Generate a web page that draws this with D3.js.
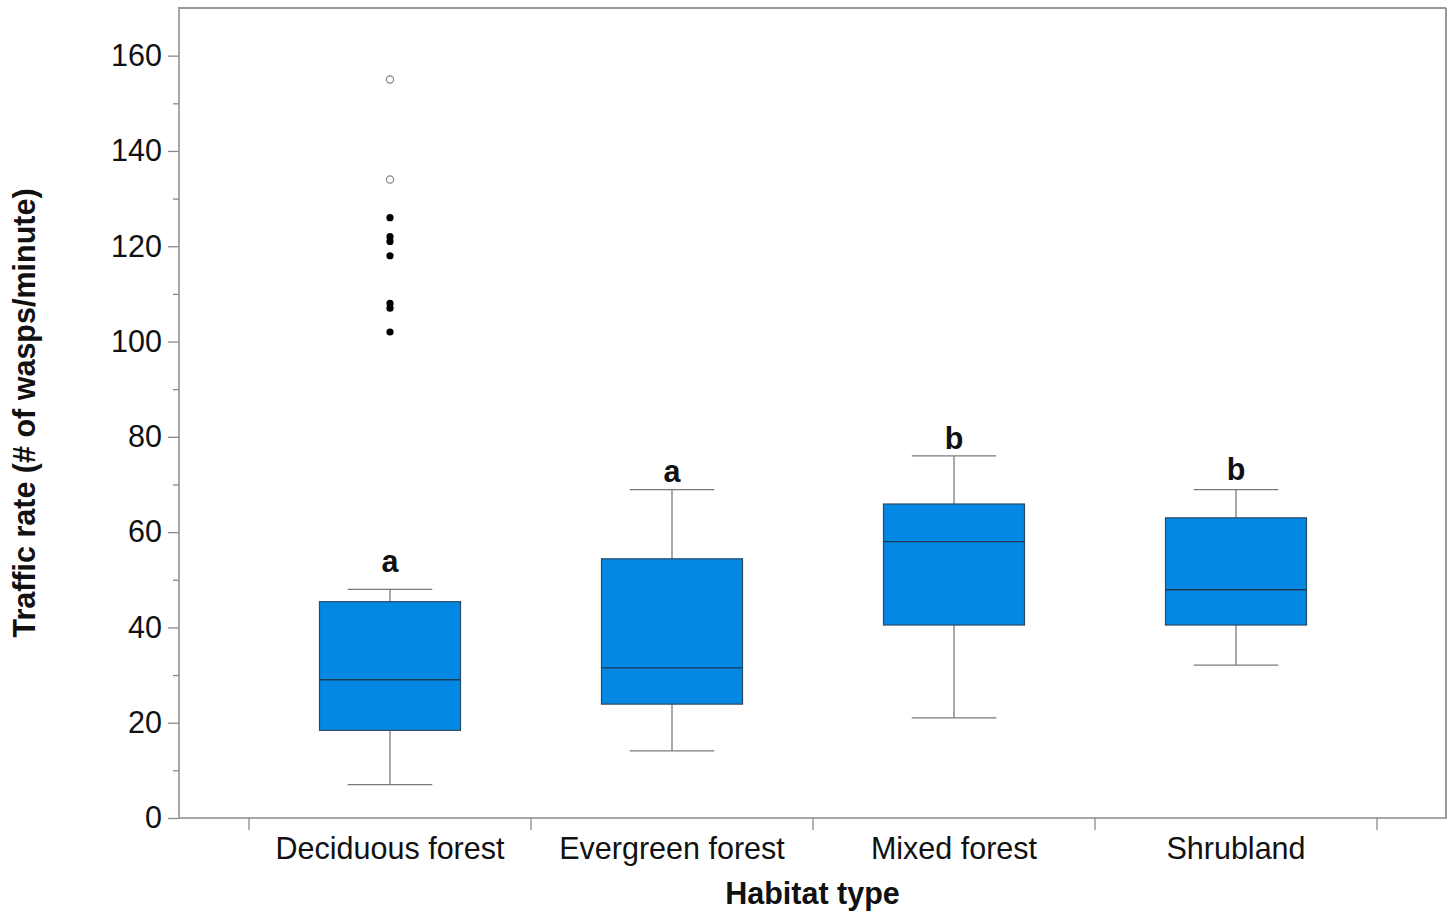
<!DOCTYPE html>
<html>
<head>
<meta charset="utf-8">
<script src="https://cdn.jsdelivr.net/npm/d3@7"></script>
<style>
  html, body { margin: 0; padding: 0; background: #fff; }
  svg { display: block; font-family: "Liberation Sans", Arial, Helvetica, sans-serif; }
</style>
</head>
<body>
<svg id="chart" width="1455" height="913"></svg>
<script>
// ---- Data ----
const categories = ["Deciduous forest", "Evergreen forest", "Mixed forest", "Shrubland"];
const whiskerLow  = [7, 14.1, 21, 32.1];
const q1          = [18.4, 23.9, 40.5, 40.5];
const medians     = [29, 31.5, 58, 47.9];
const q3          = [45.4, 54.4, 65.9, 63];
const whiskerHigh = [48, 68.9, 76, 68.9];
const groupLetters = ["a", "a", "b", "b"];
const letterValues = [51.7, 70.6, 77.5, 71.0];
// outliers for Deciduous forest
const outlierCategory = "Deciduous forest";
const filledOutliers = [126, 122, 121, 118, 108, 107, 102];
const openOutliers = [155, 134];
const yTicks = [0, 20, 40, 60, 80, 100, 120, 140, 160];
const yMinorTicks = [10, 30, 50, 70, 90, 110, 130, 150];
const yTitle = "Traffic rate (# of wasps/minute)";
const xTitle = "Habitat type";

// ---- Layout ----
const svg = d3.select("#chart");
const mLeft = 179, mRight = 1446, mTop = 8, mBottom = 818;

const y = d3.scaleLinear().domain([0, 170]).range([mBottom, mTop]);
const x = d3.scaleBand().domain(categories).range([249, 1377]).paddingInner(0).paddingOuter(0);
const bw = x.bandwidth();
const boxW = bw * 0.5;
const capW = bw * 0.3;

const axisColor = "#8a8a8a";
const fontSize = 30.5;

// frame top & right
svg.append("line").attr("x1", mLeft).attr("x2", mRight).attr("y1", mTop).attr("y2", mTop)
  .attr("stroke", "#9a9a9a").attr("stroke-width", 2);
svg.append("line").attr("x1", mRight).attr("x2", mRight).attr("y1", mTop).attr("y2", mBottom)
  .attr("stroke", "#9a9a9a").attr("stroke-width", 2);

// y axis
const yAxis = svg.append("g").attr("transform", `translate(${mLeft},0)`)
  .call(d3.axisLeft(y).tickValues(yTicks).tickSize(11).tickPadding(6).tickFormat(d3.format("d")));
yAxis.select(".domain").remove();
yAxis.selectAll(".tick line").attr("stroke", axisColor).attr("stroke-width", 1.3);
yAxis.selectAll(".tick text").attr("fill", "#111").style("font-size", fontSize + "px")
  .style("font-family", "'Liberation Sans', Arial, sans-serif");
const yMinor = svg.append("g").attr("transform", `translate(${mLeft},0)`)
  .call(d3.axisLeft(y).tickValues(yMinorTicks).tickSize(6).tickFormat(""));
yMinor.select(".domain").remove();
yMinor.selectAll(".tick line").attr("stroke", axisColor).attr("stroke-width", 1.3);
svg.append("line").attr("x1", mLeft).attr("x2", mLeft).attr("y1", mTop - 1).attr("y2", mBottom)
  .attr("stroke", axisColor).attr("stroke-width", 1.5);

// x axis
const xAxis = svg.append("g").attr("transform", `translate(0,${mBottom})`)
  .call(d3.axisBottom(x).tickSize(0).tickPadding(0));
xAxis.select(".domain").remove();
xAxis.selectAll(".tick text").attr("y", 0).attr("dy", null)
  .attr("transform", "translate(0,41)")
  .attr("fill", "#111").style("font-size", fontSize + "px")
  .style("font-family", "'Liberation Sans', Arial, sans-serif");
const boundaries = categories.map(c => x(c)).concat([x.range()[1]]);
svg.append("g").selectAll("line").data(boundaries).join("line")
  .attr("x1", d => d).attr("x2", d => d).attr("y1", mBottom).attr("y2", mBottom + 12)
  .attr("stroke", axisColor).attr("stroke-width", 1.3);
svg.append("line").attr("x1", mLeft).attr("x2", mRight + 1).attr("y1", mBottom).attr("y2", mBottom)
  .attr("stroke", axisColor).attr("stroke-width", 1.5);

// boxes
const boxes = categories.map((c, i) => ({
  c, lo: whiskerLow[i], q1: q1[i], med: medians[i], q3: q3[i], hi: whiskerHigh[i],
  letter: groupLetters[i], lv: letterValues[i]
}));
const g = svg.append("g").selectAll("g").data(boxes).join("g")
  .attr("transform", d => `translate(${x(d.c) + bw / 2},0)`);
const whiskColor = "#7a7a7a";
g.append("line").attr("x1", 0).attr("x2", 0).attr("y1", d => y(d.hi)).attr("y2", d => y(d.q3))
  .attr("stroke", whiskColor).attr("stroke-width", 1.3);
g.append("line").attr("x1", 0).attr("x2", 0).attr("y1", d => y(d.q1)).attr("y2", d => y(d.lo))
  .attr("stroke", whiskColor).attr("stroke-width", 1.3);
g.append("line").attr("x1", -capW / 2).attr("x2", capW / 2).attr("y1", d => y(d.hi)).attr("y2", d => y(d.hi))
  .attr("stroke", whiskColor).attr("stroke-width", 1.3);
g.append("line").attr("x1", -capW / 2).attr("x2", capW / 2).attr("y1", d => y(d.lo)).attr("y2", d => y(d.lo))
  .attr("stroke", whiskColor).attr("stroke-width", 1.3);
g.append("rect").attr("x", -boxW / 2).attr("width", boxW)
  .attr("y", d => y(d.q3)).attr("height", d => y(d.q1) - y(d.q3))
  .attr("fill", "#0388e3").attr("stroke", "#2b4a66").attr("stroke-width", 1.2);
g.append("line").attr("x1", -boxW / 2).attr("x2", boxW / 2).attr("y1", d => y(d.med)).attr("y2", d => y(d.med))
  .attr("stroke", "#1d3a55").attr("stroke-width", 1.4);
g.append("text").attr("x", 0).attr("y", d => y(d.lv)).attr("text-anchor", "middle")
  .style("font-size", fontSize + "px").style("font-weight", "bold").attr("fill", "#111").text(d => d.letter);

// outliers
const ox = x(outlierCategory) + bw / 2;
svg.append("g").selectAll("circle").data(filledOutliers).join("circle")
  .attr("cx", ox).attr("cy", d => y(d)).attr("r", 3.6).attr("fill", "#000");
svg.append("g").selectAll("circle").data(openOutliers).join("circle")
  .attr("cx", ox).attr("cy", d => y(d)).attr("r", 3.6).attr("fill", "none")
  .attr("stroke", "#888").attr("stroke-width", 1.2);

// titles
svg.append("text").attr("x", (mLeft + mRight) / 2).attr("y", 904).attr("text-anchor", "middle")
  .style("font-size", fontSize + "px").style("font-weight", "bold").attr("fill", "#111").text(xTitle);
svg.append("text").attr("transform", `translate(35,${(mTop + mBottom) / 2}) rotate(-90)`)
  .attr("text-anchor", "middle")
  .style("font-size", fontSize + "px").style("font-weight", "bold").attr("fill", "#111").text(yTitle);
</script>
</body>
</html>
